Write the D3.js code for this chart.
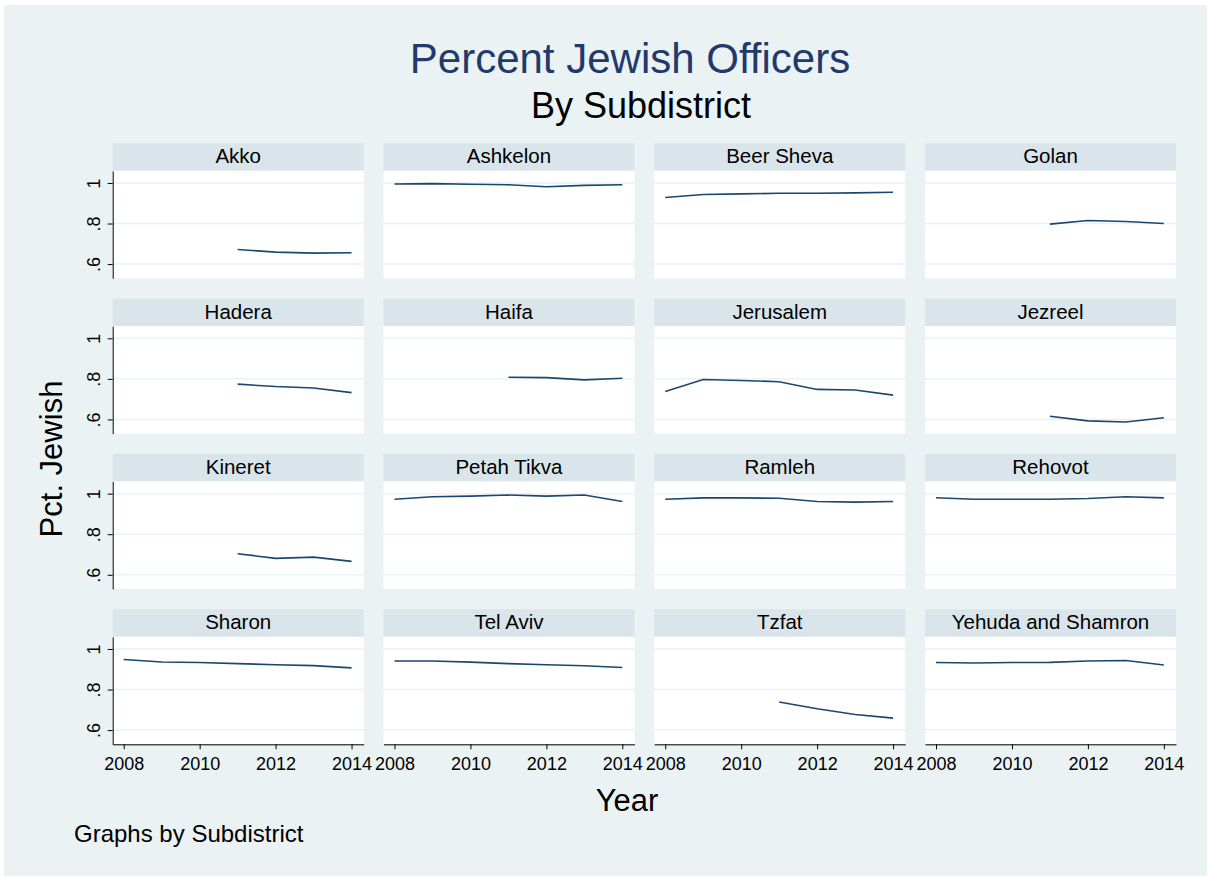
<!DOCTYPE html>
<html>
<head>
<meta charset="utf-8">
<script src="https://cdn.jsdelivr.net/npm/d3@7"></script>
<style>
    body { margin: 0; background: #fff; }
    svg text { font-family: "Liberation Sans", Arial, sans-serif; fill: #000; }
</style>
</head>
<body>
<svg id="chart" width="1212" height="878"></svg>
<script>
/* values, share of Jewish officers per year */
var years = [2008, 2009, 2010, 2011, 2012, 2013, 2014];
var subdistricts = ["Akko", "Ashkelon", "Beer Sheva", "Golan",
    "Hadera", "Haifa", "Jerusalem", "Jezreel",
    "Kineret", "Petah Tikva", "Ramleh", "Rehovot",
    "Sharon", "Tel Aviv", "Tzfat", "Yehuda and Shamron"];

var akko = [null, null, null, 0.672, 0.659, 0.654, 0.656];
var ashkelon = [0.995, 0.997, 0.994, 0.991, 0.981, 0.988, 0.991];
var beerSheva = [0.928, 0.943, 0.946, 0.949, 0.949, 0.951, 0.954];
var golan = [null, null, null, 0.797, 0.815, 0.810, 0.800];
var hadera = [null, null, null, 0.774, 0.762, 0.755, 0.732];
var haifa = [null, null, null, 0.808, 0.806, 0.795, 0.803];
var jerusalem = [0.738, 0.797, 0.792, 0.786, 0.748, 0.745, 0.720];
var jezreel = [null, null, null, 0.616, 0.593, 0.587, 0.608];
var kineret = [null, null, null, 0.704, 0.681, 0.687, 0.666];
var petahTikva = [0.972, 0.985, 0.988, 0.993, 0.988, 0.993, 0.961];
var ramleh = [0.972, 0.979, 0.979, 0.977, 0.961, 0.958, 0.961];
var rehovot = [0.980, 0.972, 0.972, 0.972, 0.976, 0.985, 0.979];
var sharon = [0.948, 0.936, 0.933, 0.928, 0.922, 0.918, 0.907];
var telAviv = [0.941, 0.941, 0.935, 0.928, 0.922, 0.917, 0.909];
var tzfat = [null, null, null, 0.739, 0.705, 0.677, 0.659];
var yehudaShamron = [0.933, 0.931, 0.933, 0.934, 0.941, 0.943, 0.921];

var pctJewish = [akko, ashkelon, beerSheva, golan,
    hadera, haifa, jerusalem, jezreel,
    kineret, petahTikva, ramleh, rehovot,
    sharon, telAviv, tzfat, yehudaShamron];

var xTicks = [2008, 2010, 2012, 2014];
var yTicks = [0.6, 0.8, 1];

var svg = d3.select("#chart");

// graph region
svg.append("rect")
    .attr("x", 4).attr("y", 5)
    .attr("width", 1203).attr("height", 871)
    .attr("fill", "#eaf2f3");

var col = d3.scaleBand().domain(d3.range(4)).range([112.7, 1176]).paddingInner(0.073);
var row = d3.scaleBand().domain(d3.range(4)).range([143.3, 744.3]).paddingInner(0.131);
var stripH = 27.5;
var plotW = col.bandwidth();
var plotH = row.bandwidth() - stripH;

var x = d3.scaleLinear().domain([2007.71, 2014.32]).range([0, plotW]);
var y = d3.scaleLinear().domain([0.53, 1.06]).range([plotH, 0]);

var line = d3.line()
    .defined(function(d) { return d != null; })
    .x(function(d, i) { return x(years[i]); })
    .y(function(d) { return y(d); });

function yFmt(v) {
    return v == 1 ? "1" : d3.format(".1f")(v).replace(/^0/, "");
}

subdistricts.forEach(function(name, k) {
    var c = k % 4,
        r = Math.floor(k / 4);
    var g = svg.append("g")
        .attr("transform", "translate(" + col(c) + "," + row(r) + ")");

    /* by-strip */
    g.append("rect")
        .attr("width", plotW).attr("height", stripH)
        .attr("fill", "#d9e5ea");
    g.append("text")
        .attr("x", plotW / 2).attr("y", 20)
        .attr("text-anchor", "middle")
        .attr("font-size", 20.5)
        .text(name);

    var p = g.append("g").attr("transform", "translate(0," + stripH + ")");
    p.append("rect")
        .attr("width", plotW).attr("height", plotH)
        .attr("fill", "#fff");

    p.selectAll("line.grid")
        .data(yTicks)
        .enter().append("line")
        .attr("class", "grid")
        .attr("x1", 0).attr("x2", plotW)
        .attr("y1", function(d) { return y(d); })
        .attr("y2", function(d) { return y(d); })
        .attr("stroke", "#eaf2f3")
        .attr("stroke-width", 1.5);

    p.append("path")
        .datum(pctJewish[k])
        .attr("d", line)
        .attr("fill", "none")
        .attr("stroke", "#1a476f")
        .attr("stroke-width", 1.6);

    if (c == 0) {
        var ya = p.append("g")
            .call(d3.axisLeft(y).tickValues(yTicks).tickSize(5).tickSizeOuter(0).tickFormat(yFmt));
        ya.select(".domain").attr("stroke", "#000");
        ya.selectAll(".tick line").attr("stroke", "#000");
        ya.selectAll(".tick text")
            .attr("transform", "rotate(-90)")
            .attr("x", 0).attr("y", -13).attr("dy", 0)
            .attr("text-anchor", "middle")
            .attr("font-size", 18);
    }
    if (r == 3) {
        var xa = p.append("g")
            .attr("transform", "translate(0," + plotH + ")")
            .call(d3.axisBottom(x).tickValues(xTicks).tickSize(5).tickSizeOuter(0).tickFormat(d3.format("d")));
        xa.select(".domain").attr("stroke", "#000");
        xa.selectAll(".tick line").attr("stroke", "#000");
        xa.selectAll(".tick text")
            .attr("y", 12.5)
            .attr("font-size", 18);
    }
});

// titles
svg.append("text")
    .attr("x", 630).attr("y", 73)
    .attr("text-anchor", "middle")
    .attr("font-size", 42)
    .style("fill", "#22396b")
    .text("Percent Jewish Officers");
svg.append("text")
    .attr("x", 641).attr("y", 118)
    .attr("text-anchor", "middle")
    .attr("font-size", 36)
    .text("By Subdistrict");

svg.append("text")
    .attr("transform", "translate(62,459) rotate(-90)")
    .attr("text-anchor", "middle")
    .attr("font-size", 31)
    .text("Pct. Jewish");
svg.append("text")
    .attr("x", 627).attr("y", 811)
    .attr("text-anchor", "middle")
    .attr("font-size", 31)
    .text("Year");
svg.append("text")
    .attr("x", 74).attr("y", 842)
    .attr("font-size", 24)
    .text("Graphs by Subdistrict");
</script>
</body>
</html>
